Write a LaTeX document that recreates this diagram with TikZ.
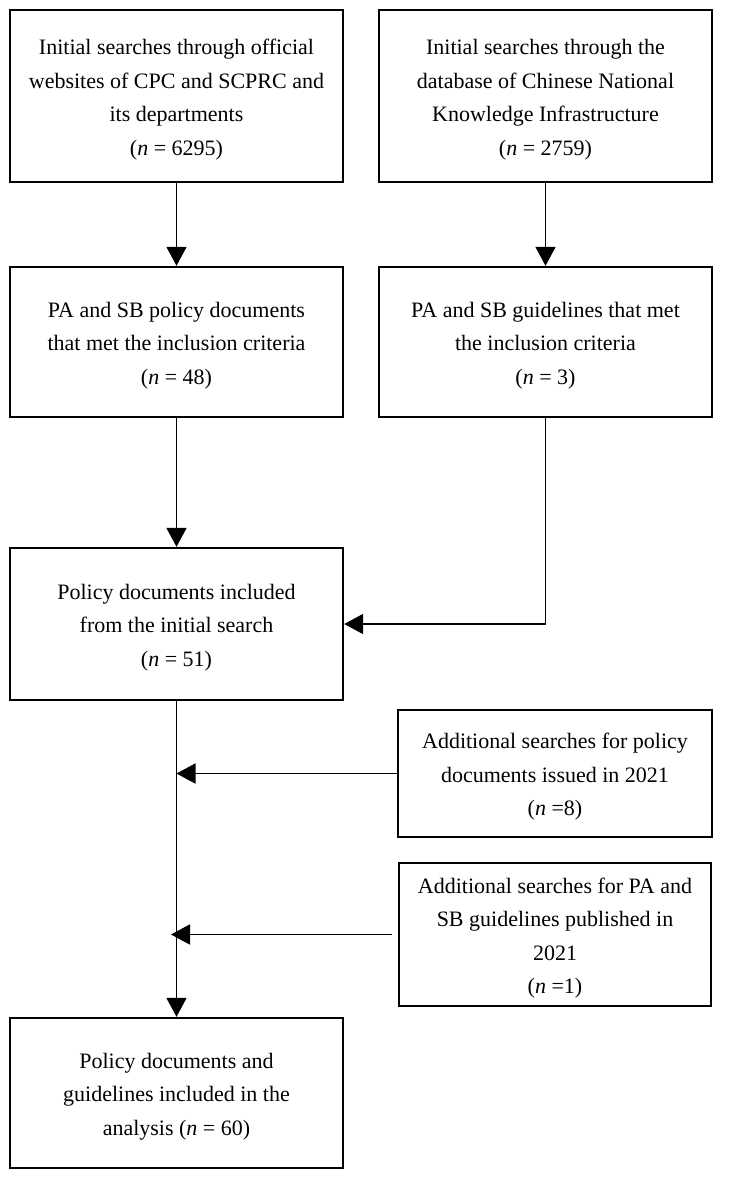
\documentclass[tikz,border=0pt]{standalone}
\usepackage{fontspec}
\setmainfont{Liberation Serif}
\usetikzlibrary{arrows.meta}
\tikzset{
  box/.style={draw=black, line width=2.4pt, inner sep=0pt},
  txt/.style={align=center, inner sep=0pt, font=\fontsize{22}{33.5}\selectfont},
  conn/.style={line width=1.8pt, -{Triangle[width=20pt,length=19pt]}}
}
\begin{document}
\begin{tikzpicture}[x=1pt,y=-1pt]
\useasboundingbox (0,0) rectangle (744,1181);
\node[box, minimum width=333pt, minimum height=172pt] (b1) at (176.5,96) {};
\node[txt] (t1) at ([yshift=-3.5pt]b1.center)
  {Initial searches through official\\websites of CPC and SCPRC and\\its departments\\(\textit{n} = 6295)};
\node[box, minimum width=333pt, minimum height=172pt] (b2) at (545.5,96) {};
\node[txt] (t2) at ([yshift=-3.5pt]b2.center)
  {Initial searches through the\\database of Chinese National\\Knowledge Infrastructure\\(\textit{n} = 2759)};
\node[box, minimum width=333pt, minimum height=150pt] (b3) at (176.5,342) {};
\node[txt] (t3) at ([yshift=-3.5pt]b3.center)
  {PA and SB policy documents\\that met the inclusion criteria\\(\textit{n} = 48)};
\node[box, minimum width=333pt, minimum height=150pt] (b4) at (545.5,342) {};
\node[txt] (t4) at ([yshift=-3.5pt]b4.center)
  {PA and SB guidelines that met\\the inclusion criteria\\(\textit{n} = 3)};
\node[box, minimum width=333pt, minimum height=152pt] (b5) at (176.5,624) {};
\node[txt] (t5) at ([yshift=-3.5pt]b5.center)
  {Policy documents included\\from the initial search\\(\textit{n} = 51)};
\node[box, minimum width=314pt, minimum height=127pt] (b6) at (555,773.5) {};
\node[txt] (t6) at ([yshift=-3.5pt]b6.center)
  {Additional searches for policy\\documents issued in 2021\\(\textit{n} =8)};
\node[box, minimum width=312pt, minimum height=143pt] (b7) at (555,934.5) {};
\node[txt] (t7) at ([yshift=-3.5pt]b7.center)
  {Additional searches for PA and\\SB guidelines published in\\2021\\(\textit{n} =1)};
\node[box, minimum width=333pt, minimum height=150pt] (b8) at (176.5,1093) {};
\node[txt] (t8) at ([yshift=-3.5pt]b8.center)
  {Policy documents and\\guidelines included in the\\analysis (\textit{n} = 60)};
\coordinate (j1) at (b5.south |- b6.west);
\coordinate (j2) at ([xshift=-5.5pt]b5.south |- b7.west);
\draw[conn] (b1.south) -- (b3.north);
\draw[conn] (b2.south) -- (b4.north);
\draw[conn] (b3.south) -- (b5.north);
\draw[conn] (b4.south) |- (b5.east);
\draw[conn] (b5.south) -- (b8.north);
\draw[conn] (b6.west) -- (j1);
\draw[conn, shorten <=6pt] (b7.west) -- (j2);
\end{tikzpicture}
\end{document}
